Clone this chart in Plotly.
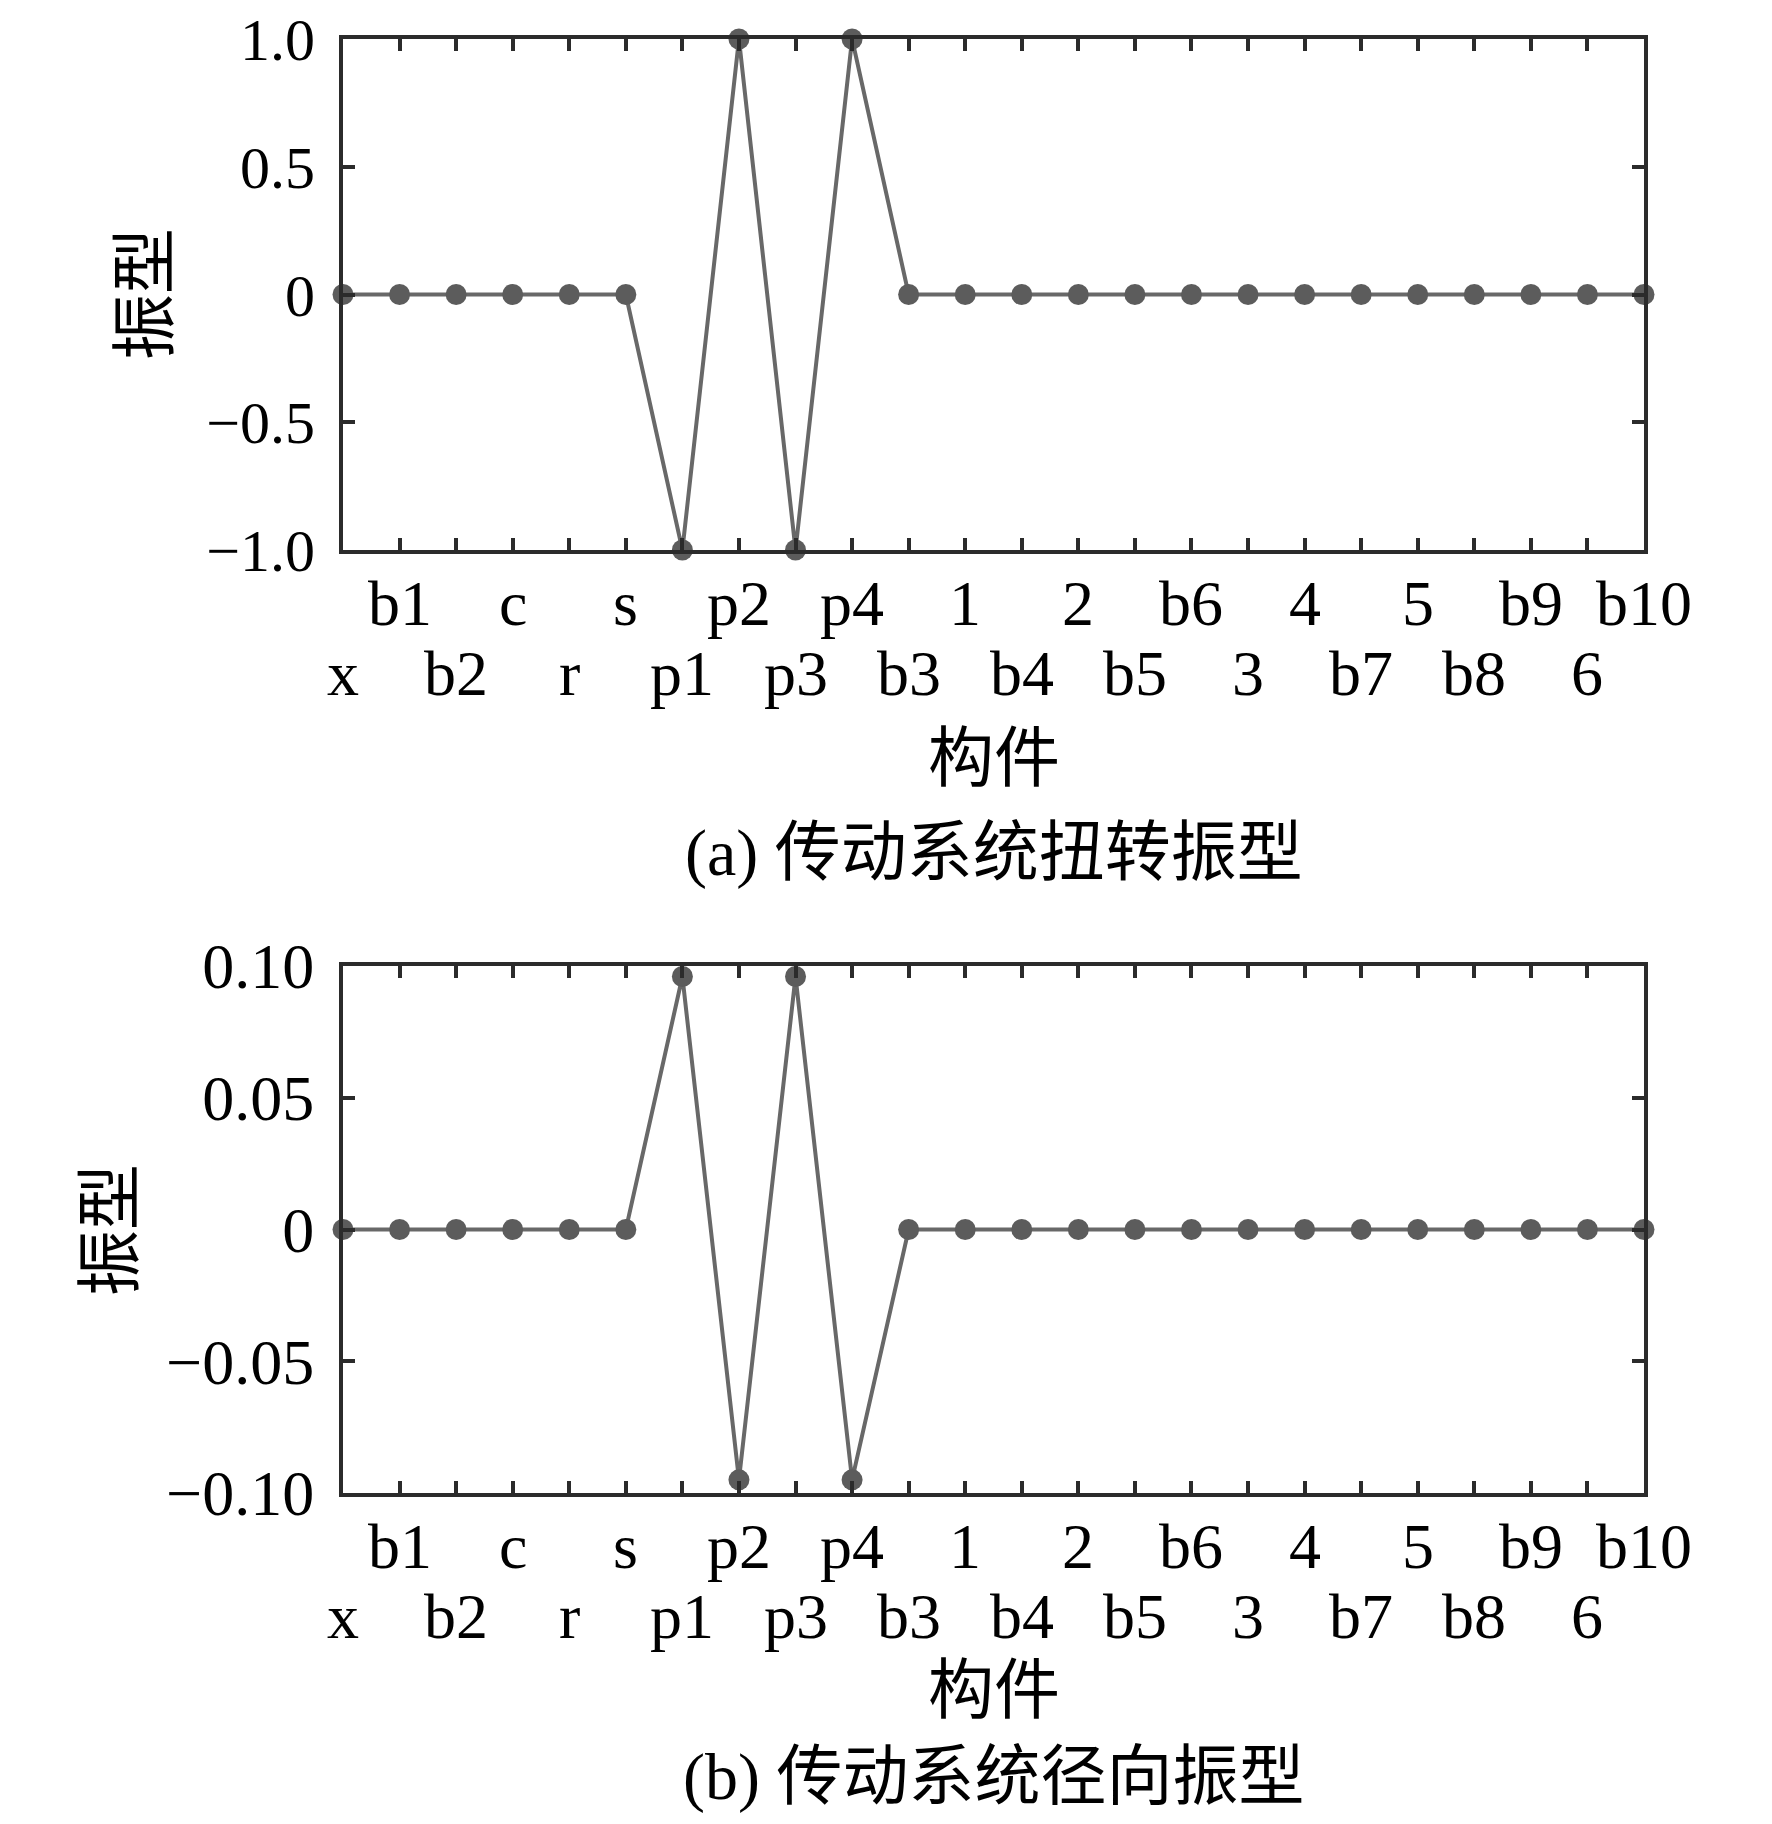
import plotly.graph_objects as go

components = ["x", "b1", "b2", "c", "r", "s", "p1", "p2", "p3", "p4", "b3", "1",
              "b4", "2", "b5", "b6", "3", "4", "b7", "5", "b8", "b9", "6", "b10"]
torsional = [0, 0, 0, 0, 0, 0, -1.0, 1.0, -1.0, 1.0, 0, 0,
             0, 0, 0, 0, 0, 0, 0, 0, 0, 0, 0, 0]
radial = [0, 0, 0, 0, 0, 0, 0.096, -0.095, 0.096, -0.095, 0, 0,
          0, 0, 0, 0, 0, 0, 0, 0, 0, 0, 0, 0]

ytick_a = [-1.0, -0.5, 0, 0.5, 1.0]
ytext_a = ["−1.0", "−0.5", "0", "0.5", "1.0"]
ytick_b = [-0.10, -0.05, 0, 0.05, 0.10]
ytext_b = ["−0.10", "−0.05", "0", "0.05", "0.10"]

xlabel = "构件"
ylabel = "振型"
cap_a = "(a) 传动系统扭转振型"
cap_b = "(b) 传动系统径向振型"

W, H = 1772, 1824
FONT = "Liberation Serif, 'Times New Roman', 'Noto Sans CJK SC', serif"
AX = "#2b2b2b"
LC = "#686868"
MC = "#5c5c5c"
FS = 64
FS_CJK = 66
OFF = 8  # page body margin

xpos = list(range(len(components)))

# pixel layout (page coordinates)
left, right = 343 - OFF, 1644 - OFF
top_a, bot_a = 39 - OFF, 550 - OFF
top_b, bot_b = 966 - OFF, 1493 - OFF

def py(p):
    return 1 - (p - OFF) / H

def px(p):
    return (p - OFF) / W

fig = go.Figure()
fig.add_trace(go.Scatter(x=xpos, y=torsional, mode="lines+markers", xaxis="x", yaxis="y",
                         line=dict(color=LC, width=4),
                         marker=dict(color=MC, size=21), cliponaxis=False, showlegend=False))
fig.add_trace(go.Scatter(x=xpos, y=radial, mode="lines+markers", xaxis="x2", yaxis="y2",
                         line=dict(color=LC, width=4),
                         marker=dict(color=MC, size=21), cliponaxis=False, showlegend=False))

xcommon = dict(range=[0, len(components) - 1], tickvals=xpos, showticklabels=False,
               ticks="inside", ticklen=12, tickwidth=4, tickcolor=AX,
               showline=True, linewidth=4, linecolor=AX, mirror="ticks",
               showgrid=False, zeroline=False, domain=[left / W, right / W],
               automargin=False)
ycommon = dict(ticks="inside", ticklen=12, tickwidth=4, tickcolor=AX,
               showline=True, linewidth=4, linecolor=AX, mirror="ticks",
               showgrid=False, zeroline=False, ticklabelstandoff=12,
               ticklabeloverflow="allow", automargin=False)

fig.update_layout(
    width=W, height=H, margin=dict(l=0, r=0, t=0, b=0, autoexpand=False),
    paper_bgcolor="white", plot_bgcolor="white",
    font=dict(family=FONT, size=FS, color="black"),
    xaxis=dict(**xcommon, anchor="y"),
    yaxis=dict(**ycommon, range=[-1.0, 1.0], tickvals=ytick_a, ticktext=ytext_a,
               tickfont=dict(family=FONT, size=60, color="black"),
               domain=[1 - bot_a / H, 1 - top_a / H], anchor="x"),
    xaxis2=dict(**xcommon, anchor="y2"),
    yaxis2=dict(**ycommon, range=[-0.10, 0.10], tickvals=ytick_b, ticktext=ytext_b,
                tickfont=dict(family=FONT, size=FS, color="black"),
                domain=[1 - bot_b / H, 1 - top_b / H], anchor="x2"),
)

ann = []
for xr, yr in (("x", "y domain"), ("x2", "y2 domain")):
    for i, lab in enumerate(components):
        shift = -53 if i % 2 == 1 else -123
        ann.append(dict(x=i, y=0, xref=xr, yref=yr, yshift=shift, text=lab,
                        showarrow=False, xanchor="center", yanchor="middle",
                        font=dict(family=FONT, size=FS, color="black")))

cx = (left + right) / 2 / W
ann += [
    dict(x=cx, y=py(759), xref="paper", yref="paper", text=xlabel, showarrow=False,
         xanchor="center", yanchor="middle", font=dict(family=FONT, size=FS_CJK)),
    dict(x=cx, y=py(853), xref="paper", yref="paper", text=cap_a, showarrow=False,
         xanchor="center", yanchor="middle", font=dict(family=FONT, size=FS_CJK)),
    dict(x=cx, y=py(1690), xref="paper", yref="paper", text=xlabel, showarrow=False,
         xanchor="center", yanchor="middle", font=dict(family=FONT, size=FS_CJK)),
    dict(x=cx, y=py(1777), xref="paper", yref="paper", text=cap_b, showarrow=False,
         xanchor="center", yanchor="middle", font=dict(family=FONT, size=FS_CJK)),
    dict(x=px(145), y=py(294), xref="paper", yref="paper", text=ylabel, showarrow=False,
         textangle=-90, xanchor="center", yanchor="middle", font=dict(family=FONT, size=FS_CJK)),
    dict(x=px(110), y=py(1230), xref="paper", yref="paper", text=ylabel, showarrow=False,
         textangle=-90, xanchor="center", yanchor="middle", font=dict(family=FONT, size=FS_CJK)),
]
fig.update_layout(annotations=ann)

fig.write_html("out.html")
